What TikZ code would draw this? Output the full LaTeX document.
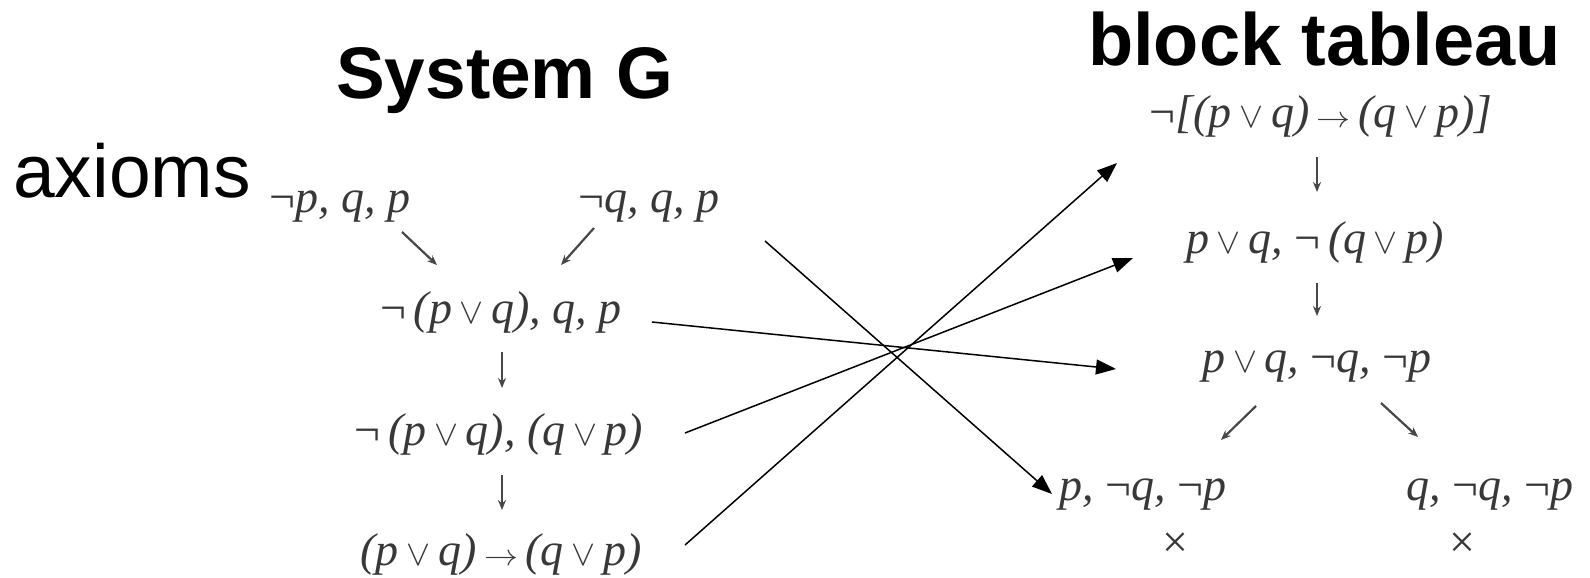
\documentclass[tikz,border=0pt]{standalone}
\usepackage{fontspec}
\setmainfont{Liberation Serif}
\newfontfamily\headfont{Liberation Sans}
\newfontfamily\frmfont{Liberation Serif}
\usetikzlibrary{arrows.meta}
\newcommand{\ngx}{{\upshape ¬}}
\newcommand{\orx}{\,\scalebox{3.6}{\fontsize{10}{12}\selectfont$\vee$}\,}
\newcommand{\impx}{\,\scalebox{3.4}[3.0]{\fontsize{10}{12}\selectfont$\rightarrow$}\,}
\begin{document}
\begin{tikzpicture}[x=1pt,y=-1pt,
  head/.style={font=\headfont\bfseries\fontsize{73}{80}\selectfont, inner sep=0pt, anchor=base west},
  frm/.style={font=\frmfont\itshape\fontsize{46}{50}\selectfont, text=black!78, inner sep=0pt, anchor=base},
  cross/.style={font=\frmfont\fontsize{46}{50}\selectfont, text=black!78, inner sep=0pt, anchor=center},
  tree/.style={draw=black!72, line width=2.2pt, -{Stealth[length=10pt,width=8pt]}},
  link/.style={draw=black, line width=1.5pt, -{Triangle[length=20pt,width=15pt]}}]
\useasboundingbox (0,0) rectangle (1590,578);
% headings
\node[head] (sysg) at (336,98) {System G};
\node[head, font=\headfont\bfseries\fontsize{74}{80}\selectfont] (bt) at (1088,66) {block tableau};
\node[head, font=\headfont\fontsize{75}{80}\selectfont] (ax) at (13,197) {axioms};
% System G derivation
\node[frm] (n1) at (340,212) {\ngx p, q, p};
\node[frm] (n2) at (649,212) {\ngx q, q, p};
\node[frm] (n3) at (501,323) {\ngx\,(p\orx q), q, p};
\node[frm] (n4) at (499,445) {\ngx\,(p\orx q), (q\orx p)};
\node[frm] (n5) at (501,565) {(p\orx q)\impx(q\orx p)};
% block tableau
\node[frm] (t1) at (1321,127) {\ngx[(p\orx q)\impx(q\orx p)]};
\node[frm] (t2) at (1315,253) {p\orx q, \ngx\,(q\orx p)};
\node[frm] (t3) at (1317,372) {p\orx q, \ngx q, \ngx p};
\node[frm] (t4) at (1143,500) {p, \ngx q, \ngx p};
\node[frm] (t5) at (1490,500) {q, \ngx q, \ngx p};
\node[cross] (x1) at (1175,545) {×};
\node[cross] (x2) at (1462,545) {×};
% tree arrows
\draw[tree] ([shift={(62,20)}]n1.base) -- ([shift={(-64,-58)}]n3.base);
\draw[tree] ([shift={(-55,16)}]n2.base) -- ([shift={(60,-58)}]n3.base);
\draw[tree] ([shift={(1,29)}]n3.base) -- ([shift={(3,-57)}]n4.base);
\draw[tree] ([shift={(3,30)}]n4.base) -- ([shift={(1,-55)}]n5.base);
\draw[tree] ([shift={(-4,30)}]t1.base) -- ([shift={(2,-61)}]t2.base);
\draw[tree] ([shift={(2,30)}]t2.base) -- ([shift={(0,-56)}]t3.base);
\draw[tree] ([shift={(-61,34)}]t3.base) -- ([shift={(78,-60)}]t4.base);
\draw[tree] ([shift={(64,31)}]t3.base) -- ([shift={(-72,-63)}]t5.base);
% correspondence arrows
\coordinate (c4) at (765,241);
\draw[link] ([shift={(184,-20)}]n5.base) -- ([shift={(-204,36)}]t1.base);
\draw[link] ([shift={(186,-12)}]n4.base) -- ([shift={(-182,5)}]t2.base);
\draw[link] ([shift={(151,-1)}]n3.base) -- ([shift={(-201,-3)}]t3.base);
\draw[link] (c4) -- ([shift={(-91,-6)}]t4.base);
\end{tikzpicture}
\end{document}
